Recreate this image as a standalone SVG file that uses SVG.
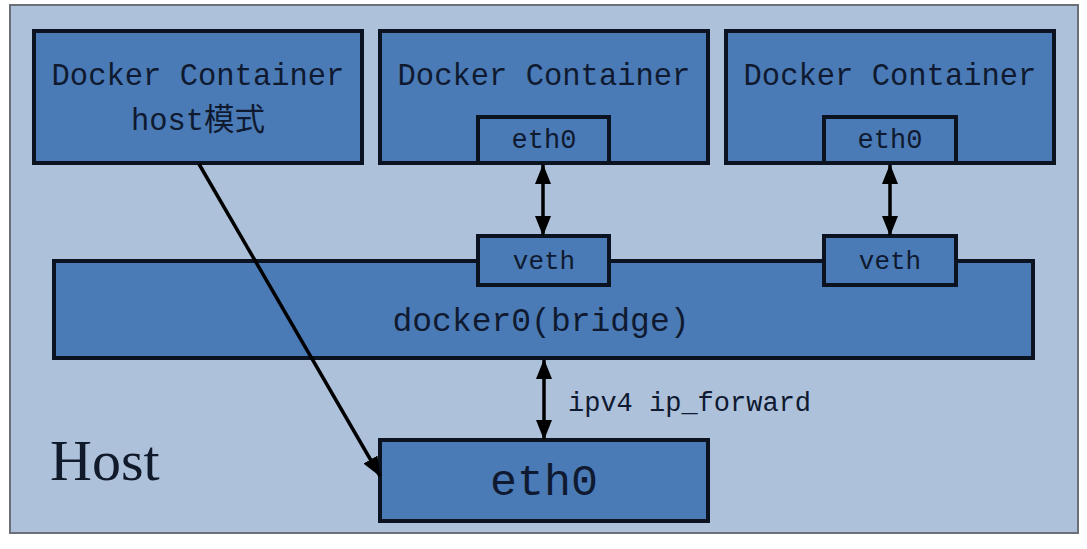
<svg xmlns="http://www.w3.org/2000/svg" width="1087" height="549" viewBox="0 0 1087 549">
<defs>
<style>
.box{fill:#4b7bb6;stroke:#0b1220;stroke-width:4}
.lbl{font-family:"Liberation Mono","Noto Sans CJK SC",monospace;fill:#0f1a30;text-anchor:middle}
.conn{stroke:#000;stroke-width:3.5;fill:none}
</style>
<marker id="ah" viewBox="0 0 20 16" refX="19" refY="8" markerWidth="20" markerHeight="16" markerUnits="userSpaceOnUse" orient="auto-start-reverse">
<path d="M0,0 L20,8 L0,16 Z" fill="#000"/>
</marker>
</defs>
<rect width="1087" height="549" fill="#ffffff"/>
<g id="host">
<rect x="10" y="5" width="1068" height="528" fill="#adc1db" stroke="#6a6f78" stroke-width="2"/>
<text x="50" y="480" font-family="Liberation Serif, serif" font-size="58" fill="#111a2a">Host</text>
</g>
<g id="bridge">
<rect class="box" x="54" y="261" width="979" height="97"/>
<text class="lbl" x="541" y="331" font-size="33">docker0(bridge)</text>
</g>
<g id="container1">
<rect class="box" x="34" y="31" width="328" height="132"/>
<text class="lbl" x="198" y="85" font-size="30.5">Docker Container</text>
<text class="lbl" x="198" y="130" font-size="30.5">host模式</text>
</g>
<g id="container2">
<rect class="box" x="380" y="31" width="328" height="132"/>
<text class="lbl" x="544" y="85" font-size="30.5">Docker Container</text>
<rect class="box" x="478" y="117" width="131" height="46"/>
<text class="lbl" x="544" y="148" font-size="27">eth0</text>
</g>
<g id="container3">
<rect class="box" x="726" y="31" width="328" height="132"/>
<text class="lbl" x="890" y="85" font-size="30.5">Docker Container</text>
<rect class="box" x="824" y="117" width="132" height="46"/>
<text class="lbl" x="890" y="148" font-size="27">eth0</text>
</g>
<g id="veth1">
<rect class="box" x="478" y="236" width="131" height="49"/>
<text class="lbl" x="544" y="269" font-size="26">veth</text>
</g>
<g id="veth2">
<rect class="box" x="824" y="236" width="132" height="49"/>
<text class="lbl" x="890" y="269" font-size="26">veth</text>
</g>
<g id="host-eth0">
<rect class="box" x="380" y="440" width="328" height="81"/>
<text class="lbl" x="544" y="495" font-size="45">eth0</text>
</g>
<g id="connectors">
<line class="conn" x1="543" y1="165" x2="543" y2="235" marker-start="url(#ah)" marker-end="url(#ah)"/>
<line class="conn" x1="890" y1="165" x2="890" y2="235" marker-start="url(#ah)" marker-end="url(#ah)"/>
<line class="conn" x1="544" y1="360" x2="544" y2="439" marker-start="url(#ah)" marker-end="url(#ah)"/>
<line class="conn" x1="199" y1="164" x2="380" y2="476" marker-end="url(#ah)"/>
<text x="568" y="411" font-family="Liberation Mono, monospace" font-size="27" fill="#0f1a30">ipv4 ip_forward</text>
</g>
</svg>
